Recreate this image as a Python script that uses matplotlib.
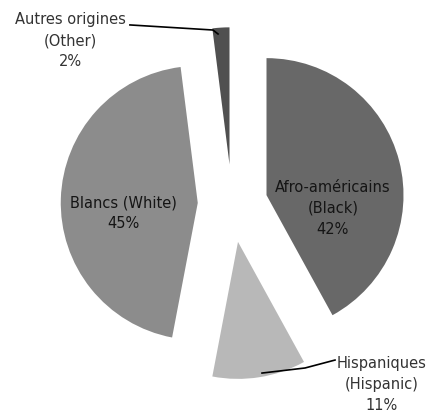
import numpy as np
import matplotlib
matplotlib.use('Agg')
import matplotlib.pyplot as plt

# Données du graphique
categories = ['Afro-américains\n(Black)', 'Hispaniques\n(Hispanic)', 'Blancs (White)', 'Autres origines\n(Other)']
valeurs = [42, 11, 45, 2]
couleurs = ['#686868', '#b8b8b8', '#8c8c8c', '#505050']
eclatement = [0.26, 0.28, 0.25, 0.29]

fig = plt.figure(figsize=(4.27, 4.17), dpi=100)
ax = fig.add_axes([0, 0, 1, 1])

wedges, _ = ax.pie(valeurs, colors=couleurs, explode=eclatement, startangle=90,
                   counterclock=False, radius=1.0,
                   wedgeprops=dict(linewidth=0))

style = dict(ha='center', va='center', fontsize=10.5, linespacing=1.5)

# Étiquettes intérieures
ax.text(0.737, -0.03, categories[0] + '\n' + str(valeurs[0]) + '%', color='#151515', **style)
ax.text(-0.796, -0.066, categories[2] + '\n' + str(valeurs[2]) + '%', color='#151515', **style)

# Étiquettes extérieures avec lignes de rappel
ax.text(-1.182, 1.19, categories[3] + '\n' + str(valeurs[3]) + '%', color='#333333', **style)
ax.plot([-0.745, -0.139, -0.102], [1.307, 1.27, 1.241], color='black', linewidth=1.2)

ax.text(1.095, -1.321, categories[1] + '\n' + str(valeurs[1]) + '%', color='#333333', **style)
ax.plot([0.752, 0.533, 0.219], [-1.139, -1.197, -1.234], color='black', linewidth=1.2)

ax.set_xlim(-232 / 137, (427 - 232) / 137)
ax.set_ylim(-(417 - 204) / 137, 204 / 137)
ax.set_aspect('auto')
ax.axis('off')

plt.savefig('out.png', dpi=100, facecolor='white')
